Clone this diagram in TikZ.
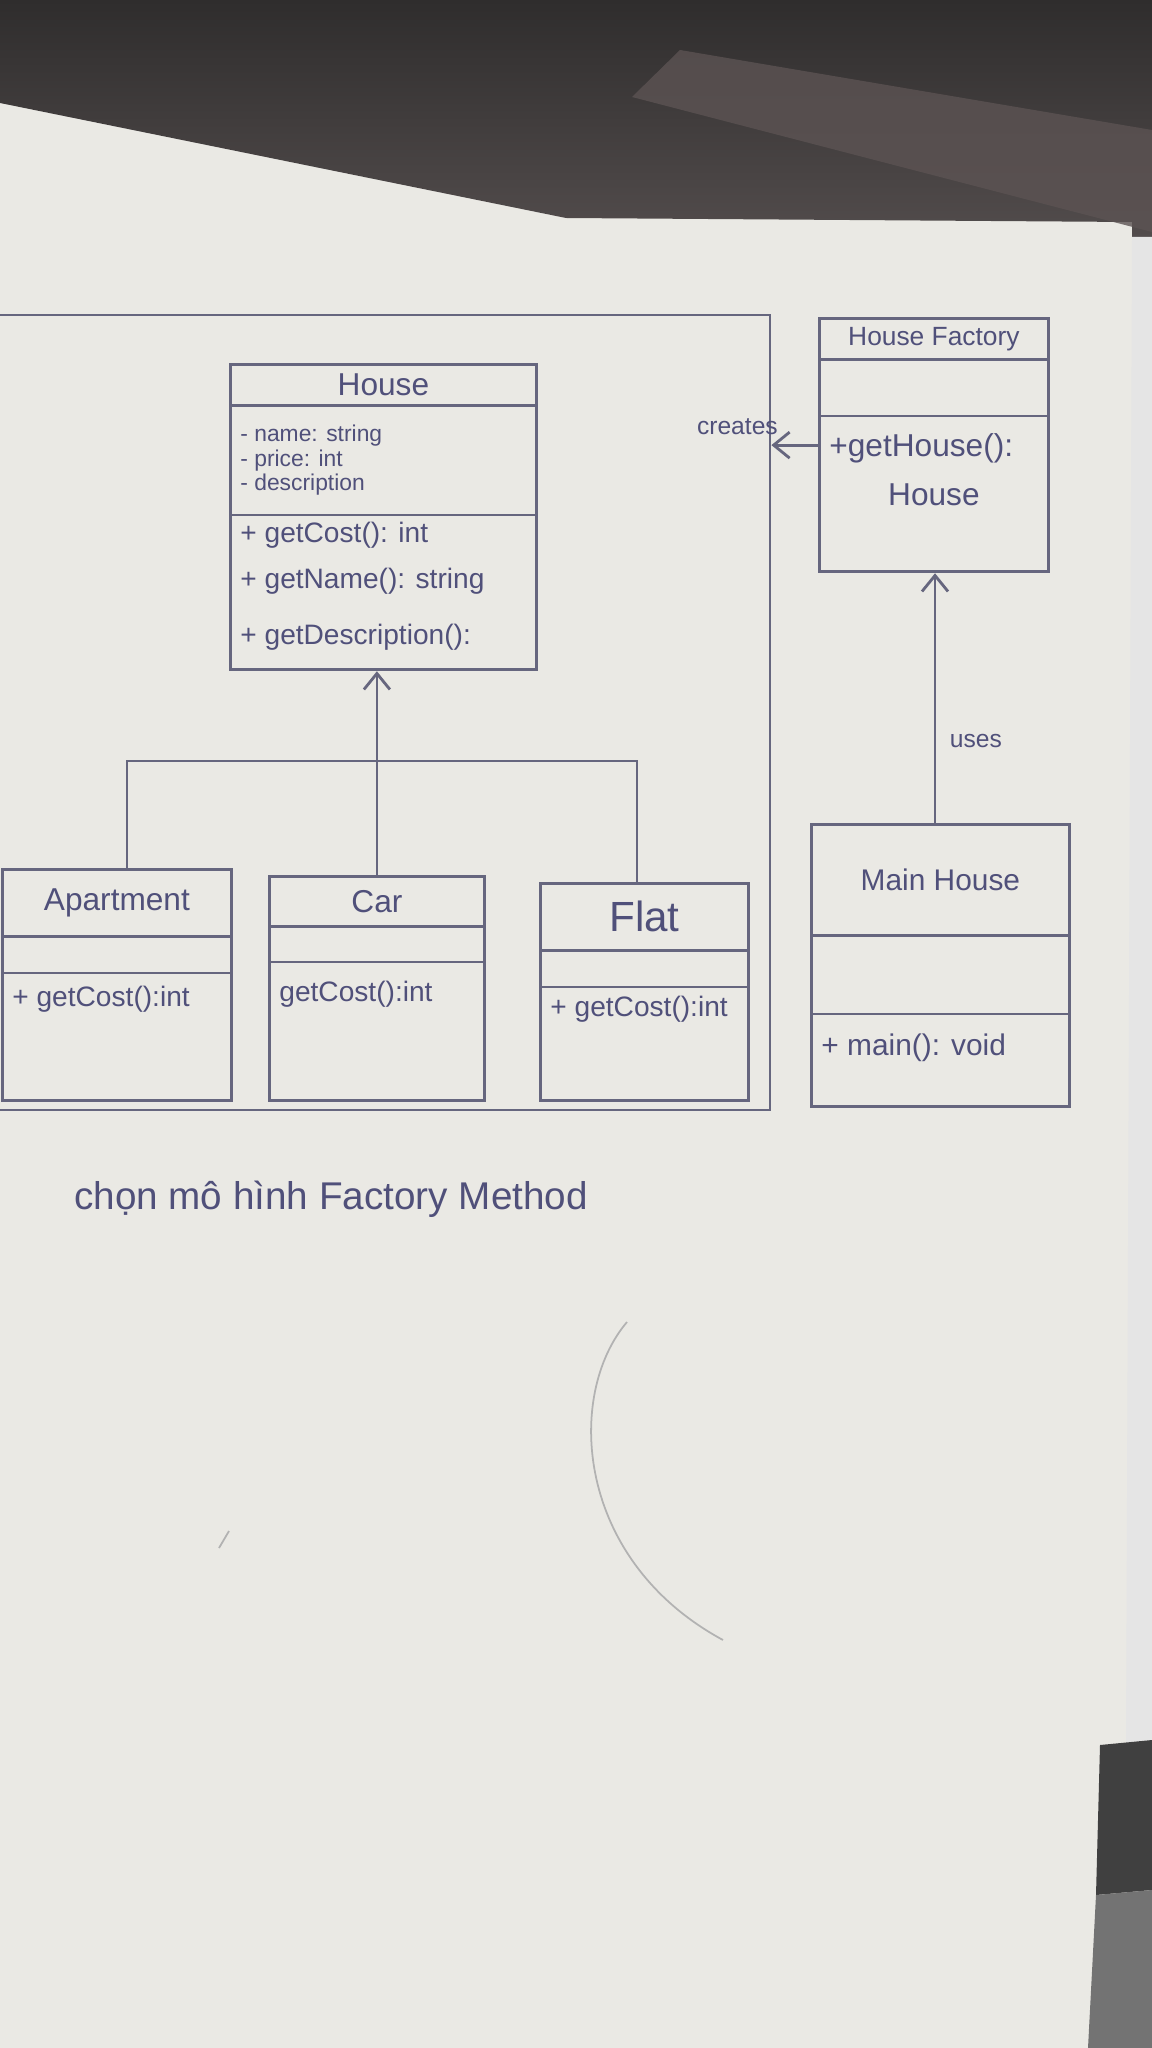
\documentclass[tikz,border=0pt]{standalone}
\usepackage{fontspec}
\setmainfont{Liberation Sans}
\usetikzlibrary{arrows.meta, calc, positioning, shapes.multipart}
\definecolor{paper}{HTML}{EAE9E4}
\definecolor{pen}{HTML}{66667E}
\definecolor{ink}{HTML}{50507A}
\definecolor{desk}{HTML}{2F2D2D}
\definecolor{deskhi}{HTML}{524C4C}
\definecolor{sheet}{HTML}{5C5353}
\newcommand{\ttl}{\fontsize{9}{11}\selectfont}
\newcommand{\atr}{\fontsize{6.5}{7}\selectfont}
\newcommand{\mth}{\fontsize{8}{13}\selectfont}
% width, title height, title, attr height, attrs, method height, gap, methods
\newcommand{\umlbox}[8]{%
  \parbox[c][#2][c]{#1}{\centering #3}%
  \nodepart{two}\parbox[c][#4][c]{#1}{\raggedright #5}%
  \nodepart{three}\parbox[c][#6][t]{#1}{\raggedright\vspace*{#7}#8}}

\begin{document}
\begin{tikzpicture}[x=0.1mm, y=-0.1mm,
    cls/.style={rectangle split, rectangle split parts=3, draw=pen, line width=0.8pt,
                inner xsep=1mm, inner ysep=0pt, anchor=north west, text=ink},
    pkg/.style={draw=pen, line width=0.8pt, inner sep=0pt},
    arr/.style={-{Straight Barb[length=1.6mm, width=2.6mm]}, draw=pen, line width=0.8pt},
    tree/.style={draw=pen, line width=0.8pt},
    lab/.style={font=\fontsize{7}{8}\selectfont, text=ink, inner sep=1pt}]
  % photo background
  \fill[paper] (0,0) rectangle (1152,2048);
  \useasboundingbox (0,0) rectangle (1152,2048);
  \shade[top color=desk, bottom color=deskhi] (0,0) -- (1152,0) -- (1152,237) -- (1132,237)
      -- (1132,222) -- (566,218) -- (0,103) -- cycle;
  \fill[sheet, opacity=0.8] (632,97) -- (680,50) -- (1152,130) -- (1152,232) -- cycle;
  \fill[black!10] (1132,237) -- (1152,237) -- (1152,1742) -- (1126,1745) -- cycle;
  \fill[black!75] (1100,1745) -- (1152,1740) -- (1152,1890) -- (1096,1895) -- cycle;
  \fill[black!55] (1096,1895) -- (1152,1890) -- (1152,2048) -- (1088,2048) -- cycle;

  \node[pkg, minimum width=79mm, minimum height=79.5mm] (housepkg) at (375,712.5) {};

  \node[cls] (house) at (229,363) {\umlbox{28.6mm}{3.8mm}{\ttl House}{10.7mm}
      {\atr - name: string\\ - price: int\\ - description}{15.2mm}{0.6mm}
      {\mth + getCost(): int\\ + getName(): string\\[1mm] + getDescription():}};
  \node[cls] (apartment) at (1,868) {\umlbox{20.9mm}{6.4mm}{\ttl Apartment}{3.4mm}{}{12.5mm}{1.2mm}
      {\mth + getCost():int}};
  \node[cls] (car) at (268,875) {\umlbox{19.5mm}{4.7mm}{\ttl Car}{3.3mm}{}{13.6mm}{1.8mm}
      {\mth getCost():int}};
  \node[cls] (flat) at (539,882) {\umlbox{18.8mm}{6.4mm}{\fontsize{12}{14}\selectfont Flat}{3.4mm}{}{11.1mm}{0.8mm}
      {\mth + getCost():int}};
  \node[cls] (factory) at (818,317) {\umlbox{20.9mm}{3.8mm}{\fontsize{7.5}{9}\selectfont House Factory}{5.4mm}{}{15.3mm}{1.6mm}
      {\fontsize{9}{14}\selectfont +getHouse():\par\centerline{House}}};
  \node[cls] (mainhouse) at (810,823) {\umlbox{23.8mm}{10.8mm}{\fontsize{8.5}{10}\selectfont Main House}{7.6mm}{}{9mm}{1.8mm}
      {\fontsize{8.5}{10}\selectfont + main(): void}};

  % inheritance
  \coordinate (hub) at (375,761);
  \draw[arr] (car.north) -- (car.north |- house.south);
  \draw[tree] (apartment.north -| 127,0) -- (hub -| 127,0) -- (hub -| 637,0) -- (flat.north -| 637,0);

  \draw[arr] (factory.west) -- (factory.west -| housepkg.east)
      node[lab, pos=1, above=0.5mm, xshift=-3.4mm]{creates};
  \draw[arr] (mainhouse.north -| 935,0) -- (factory.south -| 935,0)
      node[lab, pos=0.33, right=1mm]{uses};

  \node[text=ink, font=\fontsize{11}{13}\selectfont] (caption) at (331,1199) {chọn mô hình Factory Method};

  % pencil marks
  \draw[black!30, line width=0.5pt] (627,1322) .. controls (565,1395) and (575,1560) .. (723,1640);
  \draw[black!30, line width=0.5pt] (219,1548) -- (229,1531);
\end{tikzpicture}
\end{document}
